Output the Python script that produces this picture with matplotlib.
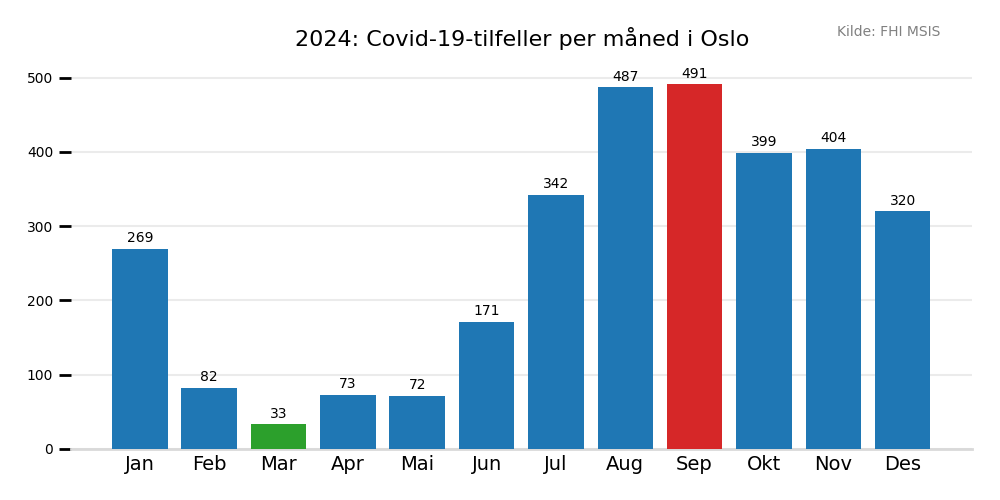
import matplotlib
matplotlib.use("Agg")
import matplotlib.pyplot as plt
import numpy as np

# Data
months = ["Jan", "Feb", "Mar", "Apr", "Mai", "Jun", "Jul", "Aug", "Sep", "Okt", "Nov", "Des"]
cases = [269, 82, 33, 73, 72, 171, 342, 487, 491, 399, 404, 320]
yticks = [0, 100, 200, 300, 400, 500]

title = "2024: Covid-19-tilfeller per måned i Oslo"
source = "Kilde: FHI MSIS"

# Highlight max (red) and min (green)
colors = ["#1f77b4"] * len(cases)
colors[int(np.argmax(cases))] = "#d62728"
colors[int(np.argmin(cases))] = "#2ca02c"

fig = plt.figure(figsize=(10, 5), dpi=100)
ax = fig.add_axes([0.0705, 0.102, 0.9015, 0.765])

x = np.arange(len(months))
bars = ax.bar(x, cases, width=0.8, color=colors, zorder=3)

for bar, v in zip(bars, cases):
    ax.text(bar.get_x() + bar.get_width() / 2, v + 5, str(v),
            ha="center", va="bottom", fontsize=10, color="black")

ax.set_xlim(-1, 12)
ax.set_ylim(0, 515)
ax.set_xticks(x)
ax.set_xticklabels(months, fontsize=14)
ax.set_yticks(yticks)
ax.tick_params(axis="y", length=8.5, width=2, color="black", labelsize=10, pad=4)
ax.tick_params(axis="x", length=0, pad=4)

ax.yaxis.grid(True, color="#ebebeb", linewidth=1.5, zorder=0)
ax.set_axisbelow(True)

for s in ["top", "right", "left"]:
    ax.spines[s].set_visible(False)
ax.spines["bottom"].set_color("#d9d9d9")
ax.spines["bottom"].set_linewidth(2)

fig.text(0.522, 0.923, title, ha="center", va="center", fontsize=16)
fig.text(0.94, 0.935, source, ha="right", va="center", fontsize=10, color="gray")

fig.savefig("out.png", dpi=100)
